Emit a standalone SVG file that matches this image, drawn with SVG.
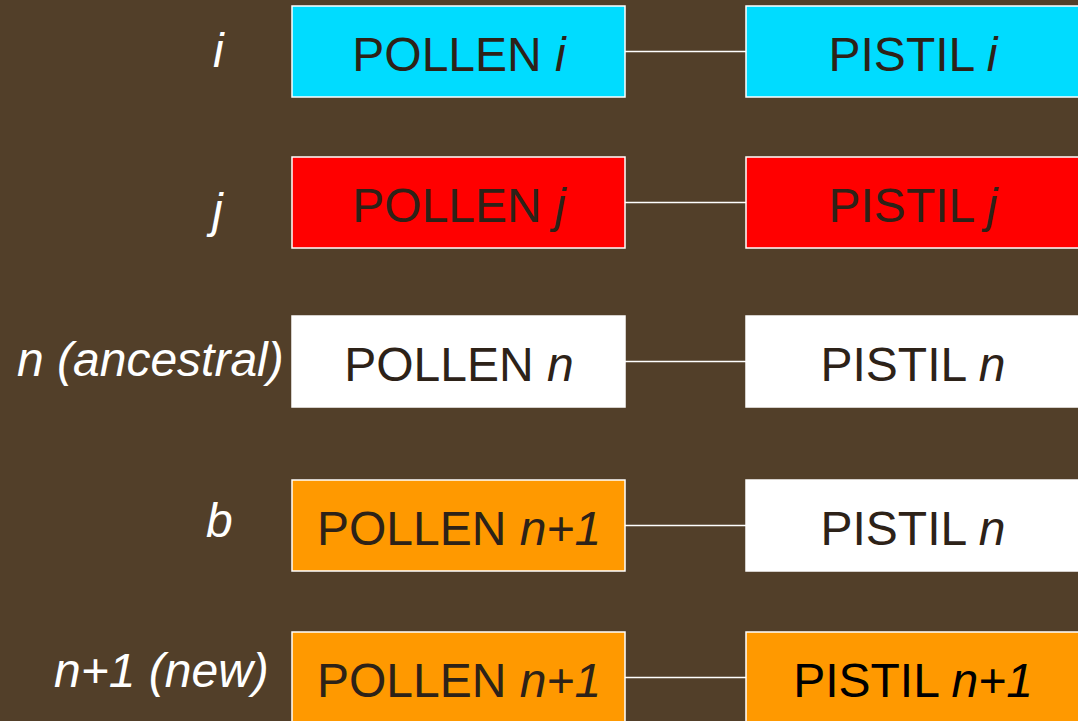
<svg xmlns="http://www.w3.org/2000/svg" width="1078" height="721" viewBox="0 0 1078 721">
  <style>
    .bg { fill: #523f29; }
    .box { stroke: #ffffff; stroke-width: 1.5; }
    .cyan { fill: #00dcff; }
    .red { fill: #ff0000; }
    .white { fill: #ffffff; }
    .orange { fill: #ff9900; }
    .txt { font-family: "Liberation Sans", Arial, sans-serif; font-size: 48px; fill: #2d2218; text-anchor: middle; }
    .lbl { font-family: "Liberation Sans", Arial, sans-serif; font-size: 48px; font-style: italic; fill: #ffffff; }
    .it { font-style: italic; }
    .conn { stroke: #ffffff; stroke-width: 1.5; fill: none; }
  </style>
  <rect class="bg" x="0" y="0" width="1078" height="721"/>

  <!-- connectors between pollen and pistil -->
  <g id="connectors">
    <line class="conn" x1="625" y1="51.5" x2="746" y2="51.5"/>
    <line class="conn" x1="625" y1="202.5" x2="746" y2="202.5"/>
    <line class="conn" x1="625" y1="361.5" x2="746" y2="361.5"/>
    <line class="conn" x1="625" y1="525.5" x2="746" y2="525.5"/>
    <line class="conn" x1="625" y1="677.5" x2="746" y2="677.5"/>
  </g>

  <!-- row labels -->
  <g id="labels">
    <text class="lbl" x="213" y="67">i</text>
    <text class="lbl" x="212" y="227">j</text>
    <text class="lbl" x="17" y="376">n (ancestral)</text>
    <text class="lbl" x="206" y="537">b</text>
    <text class="lbl" x="54" y="687">n+1 (new)</text>
  </g>

  <!-- row i -->
  <g id="pollen-i">
    <rect class="box cyan" x="292" y="6" width="333" height="91"/>
    <text class="txt" x="459" y="71">POLLEN <tspan class="it">i</tspan></text>
  </g>
  <g id="pistil-i">
    <rect class="box cyan" x="746" y="6" width="336" height="91"/>
    <text class="txt" x="913" y="71">PISTIL <tspan class="it">i</tspan></text>
  </g>

  <!-- row j -->
  <g id="pollen-j">
    <rect class="box red" x="292" y="157" width="333" height="91"/>
    <text class="txt" x="459" y="222">POLLEN <tspan class="it">j</tspan></text>
  </g>
  <g id="pistil-j">
    <rect class="box red" x="746" y="157" width="336" height="91"/>
    <text class="txt" x="913" y="222">PISTIL <tspan class="it">j</tspan></text>
  </g>

  <!-- row n (ancestral) -->
  <g id="pollen-n">
    <rect class="box white" x="292" y="316" width="333" height="91"/>
    <text class="txt" x="459" y="381">POLLEN <tspan class="it">n</tspan></text>
  </g>
  <g id="pistil-n">
    <rect class="box white" x="746" y="316" width="336" height="91"/>
    <text class="txt" x="913" y="381">PISTIL <tspan class="it">n</tspan></text>
  </g>

  <!-- row b -->
  <g id="pollen-b">
    <rect class="box orange" x="292" y="480" width="333" height="91"/>
    <text class="txt" x="459" y="545">POLLEN <tspan class="it">n+1</tspan></text>
  </g>
  <g id="pistil-b">
    <rect class="box white" x="746" y="480" width="336" height="91"/>
    <text class="txt" x="913" y="545">PISTIL <tspan class="it">n</tspan></text>
  </g>

  <!-- row n+1 (new) -->
  <g id="pollen-new">
    <rect class="box orange" x="292" y="632" width="333" height="91"/>
    <text class="txt" x="459" y="697">POLLEN <tspan class="it">n+1</tspan></text>
  </g>
  <g id="pistil-new">
    <rect class="box orange" x="746" y="632" width="336" height="91"/>
    <text class="txt" x="913" y="697" style="fill:#000000">PISTIL <tspan class="it">n+1</tspan></text>
  </g>
</svg>
